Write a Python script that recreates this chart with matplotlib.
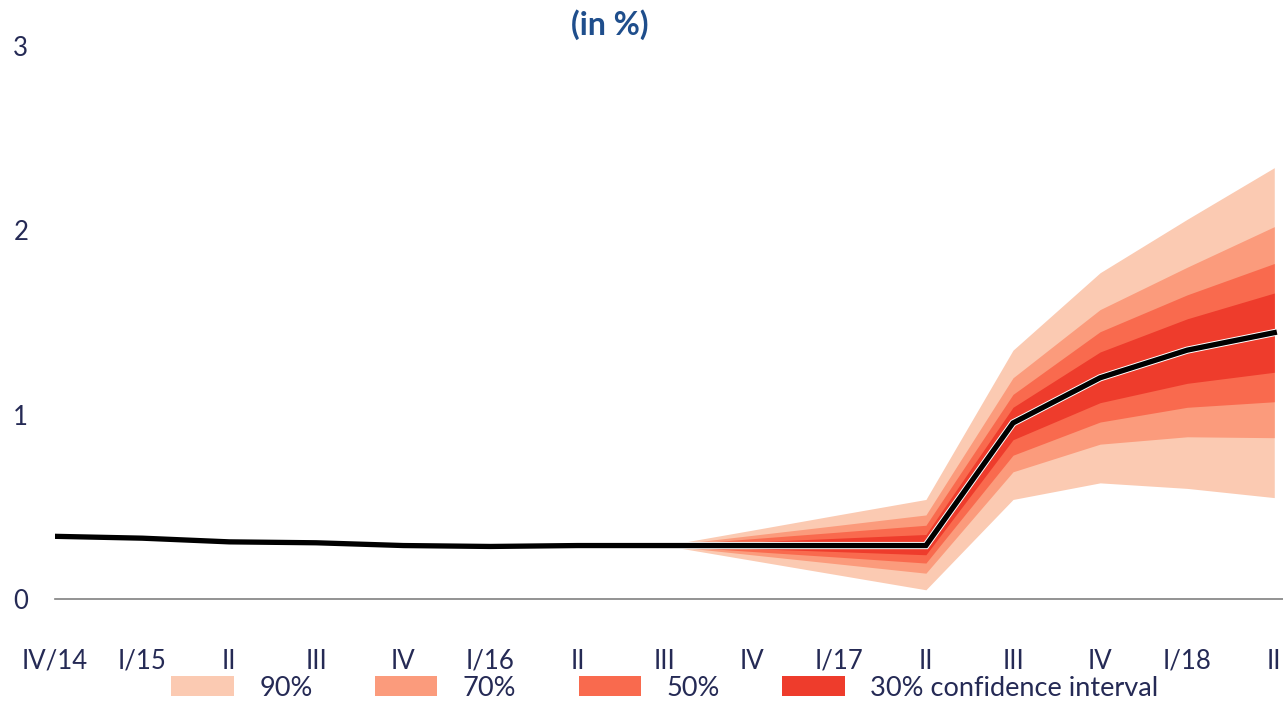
import matplotlib.pyplot as plt
import matplotlib.patheffects as pe
from matplotlib.patches import Patch

plt.rcParams['font.family'] = ['Lato', 'DejaVu Sans']

quarters = ['IV/14', 'I/15', 'II', 'III', 'IV', 'I/16', 'II', 'III',
            'IV', 'I/17', 'II', 'III', 'IV', 'I/18', 'II']
central = [0.34, 0.33, 0.31, 0.305, 0.29, 0.285, 0.29, 0.29,
           0.29, 0.29, 0.29, 0.955, 1.20, 1.35, 1.445]

# fan starts at III/16 (index 7)
fan_start = 7
upper90 = [0.29, 0.373, 0.457, 0.54, 1.35, 1.77, 2.06, 2.34]
upper70 = [0.29, 0.345, 0.40, 0.456, 1.20, 1.57, 1.80, 2.02]
upper50 = [0.29, 0.327, 0.363, 0.40, 1.11, 1.45, 1.65, 1.82]
upper30 = [0.29, 0.31, 0.33, 0.35, 1.04, 1.34, 1.52, 1.66]
lower30 = [0.29, 0.273, 0.257, 0.24, 0.864, 1.065, 1.17, 1.23]
lower50 = [0.29, 0.258, 0.227, 0.195, 0.78, 0.96, 1.04, 1.07]
lower70 = [0.29, 0.24, 0.19, 0.14, 0.69, 0.84, 0.88, 0.875]
lower90 = [0.29, 0.21, 0.13, 0.05, 0.54, 0.63, 0.60, 0.55]

colors = ['#fbcab2', '#fb9b7c', '#f96a4e', '#ee3c2c']
labels = ['90%', '70%', '50%', '30% confidence interval']
text_col = '#252a55'

fig = plt.figure(figsize=(12.83, 7.27), dpi=100)
ax = fig.add_axes([55 / 1283, 128 / 727, 1228 / 1283, 553 / 727])

x = list(range(len(quarters)))
xf = x[fan_start:]
bands = [(lower90, upper90), (lower70, upper70), (lower50, upper50), (lower30, upper30)]
for (lo, hi), c in zip(bands, colors):
    ax.fill_between(xf, lo, hi, color=c, linewidth=0)

ax.plot(x, central, color='black', linewidth=3.8, solid_joinstyle='miter',
        path_effects=[pe.Stroke(linewidth=5.2, foreground='white'), pe.Normal()])

ax.set_xlim(0, 14.1)
ax.set_ylim(0, 3)
ax.set_xticks(x)
ax.set_xticklabels(quarters)
ax.set_yticks([0, 1, 2, 3])
ax.tick_params(axis='x', length=0, pad=36, labelsize=18.5, labelcolor=text_col)
ax.tick_params(axis='y', length=0, pad=30, labelsize=18.5, labelcolor=text_col)
for lbl in ax.get_yticklabels():
    lbl.set_horizontalalignment('left')

for s in ['top', 'right', 'left']:
    ax.spines[s].set_visible(False)
ax.spines['bottom'].set_color('#808080')
ax.spines['bottom'].set_linewidth(1.2)

fig.text(610 / 1283, 1 - 25 / 727, '(in %)', ha='center', va='center',
         fontsize=23, fontweight='bold', color='#1f4e8c')

handles = [Patch(facecolor=c, edgecolor='none') for c in colors]
fig.legend(handles, labels, loc='center', bbox_to_anchor=(665 / 1283, 1 - 688 / 727),
           ncol=4, frameon=False, fontsize=19.5, handlelength=2.3, handleheight=0.75,
           handletextpad=0.95, columnspacing=2.3, labelcolor=text_col,
           borderpad=0.1)

fig.savefig('out.png', dpi=100)
